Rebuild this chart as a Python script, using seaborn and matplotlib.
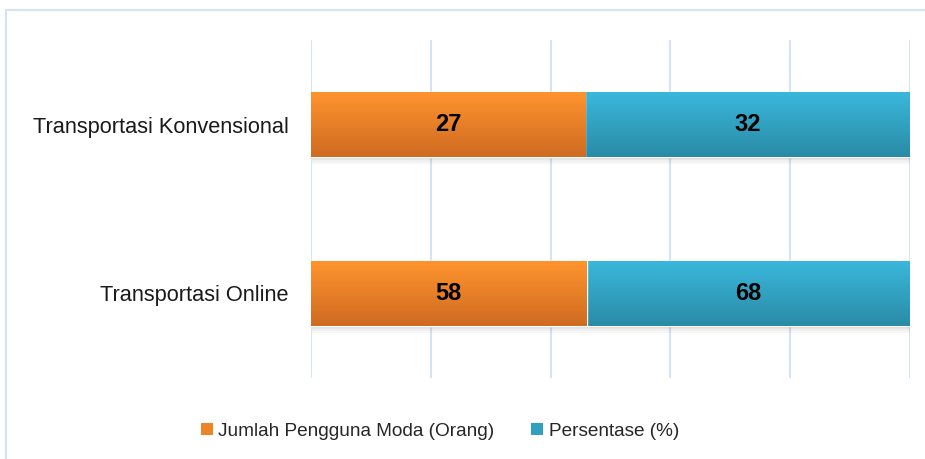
import numpy as np
import pandas as pd
import matplotlib
matplotlib.use("Agg")
import matplotlib.pyplot as plt
import seaborn as sns
from matplotlib.patches import Rectangle, Patch
from matplotlib.colors import LinearSegmentedColormap

categories = ["Transportasi Konvensional", "Transportasi Online"]
jumlah = [27, 58]
persentase = [32, 68]
series_names = ["Jumlah Pengguna Moda (Orang)", "Persentase (%)"]

sns.set_theme(style="white")
plt.rcParams['font.family'] = ['Liberation Sans', 'DejaVu Sans']

totals = [a + b for a, b in zip(jumlah, persentase)]
share_j = [100.0 * a / t for a, t in zip(jumlah, totals)]
df = pd.DataFrame({"cat": categories, "full": [100.0] * len(categories), "j": share_j})

fig = plt.figure(figsize=(9.25, 4.59), dpi=100)
ax = fig.add_axes([311/925, 1 - 378/459, (910 - 311)/925, (378 - 40)/459])

# outer chart border
fig.patches.append(Rectangle((6/925, -0.1), 1.2, 1 - 10/459 + 0.1, transform=fig.transFigure,
                             fill=False, edgecolor="#D6E3F3", lw=1.5, zorder=0))

sns.barplot(data=df, y="cat", x="full", color="#36B2D6", width=0.39, ax=ax, zorder=3, saturation=1)
sns.barplot(data=df, y="cat", x="j", color="#F88E2C", width=0.39, ax=ax, zorder=4, saturation=1)

ax.set_xlim(0, 100)
ax.set_ylim(1.5, -0.5)
ax.set_xticks(np.arange(0, 101, 20))
ax.set_xticklabels([])
ax.grid(axis="x", color="#D6E3F3", lw=1.5, zorder=0)
ax.grid(axis="y", visible=False)
for s in ax.spines.values():
    s.set_visible(False)
ax.set_xlabel("")
ax.set_ylabel("")
ax.tick_params(axis="y", length=0, pad=16, labelsize=15.7, labelcolor="#1a1a1a")
ax.tick_params(axis="x", length=0)

cmap_o = LinearSegmentedColormap.from_list("o", ["#FF942E", "#CF6B22"])
cmap_b = LinearSegmentedColormap.from_list("b", ["#3AB8DC", "#2A8BA6"])
grad = np.linspace(0, 1, 100).reshape(-1, 1)
for i, p in enumerate(ax.patches):
    x0, y0 = p.get_x(), p.get_y()
    w, h = p.get_width(), p.get_height()
    cm = cmap_b if i < len(categories) else cmap_o
    if i < len(categories):
        # soft shadow below the whole stacked bar
        for k, a in enumerate([0.16, 0.10, 0.06, 0.03]):
            ax.add_patch(Rectangle((x0 + 0.2, y0 + h + 0.009 * k), w, 0.009, color="black",
                                   alpha=a, lw=0, zorder=2))
    im = ax.imshow(grad, extent=(x0, x0 + w, y0 + h, y0), aspect="auto", cmap=cm,
                   zorder=p.get_zorder() + 0.5, interpolation="bilinear")
    im.set_clip_path(p)
ax.set_xlim(0, 100)
ax.set_ylim(1.5, -0.5)

for i in range(len(categories)):
    ax.text(share_j[i] / 2, i, str(jumlah[i]), ha="center", va="center",
            fontsize=17, fontweight="bold", color="black", zorder=10)
    ax.text(share_j[i] + (100 - share_j[i]) / 2, i, str(persentase[i]), ha="center", va="center",
            fontsize=17, fontweight="bold", color="black", zorder=10)

handles = [Patch(facecolor="#EE8328", edgecolor="none"), Patch(facecolor="#319FC0", edgecolor="none")]
fig.legend(handles, series_names, loc="center", bbox_to_anchor=(440/925, 1 - 431/459), ncol=2,
           frameon=False, fontsize=13.7, handlelength=0.6, handleheight=0.6, handletextpad=0.3,
           columnspacing=1.95)

fig.savefig("out.png", dpi=100, facecolor="white")
